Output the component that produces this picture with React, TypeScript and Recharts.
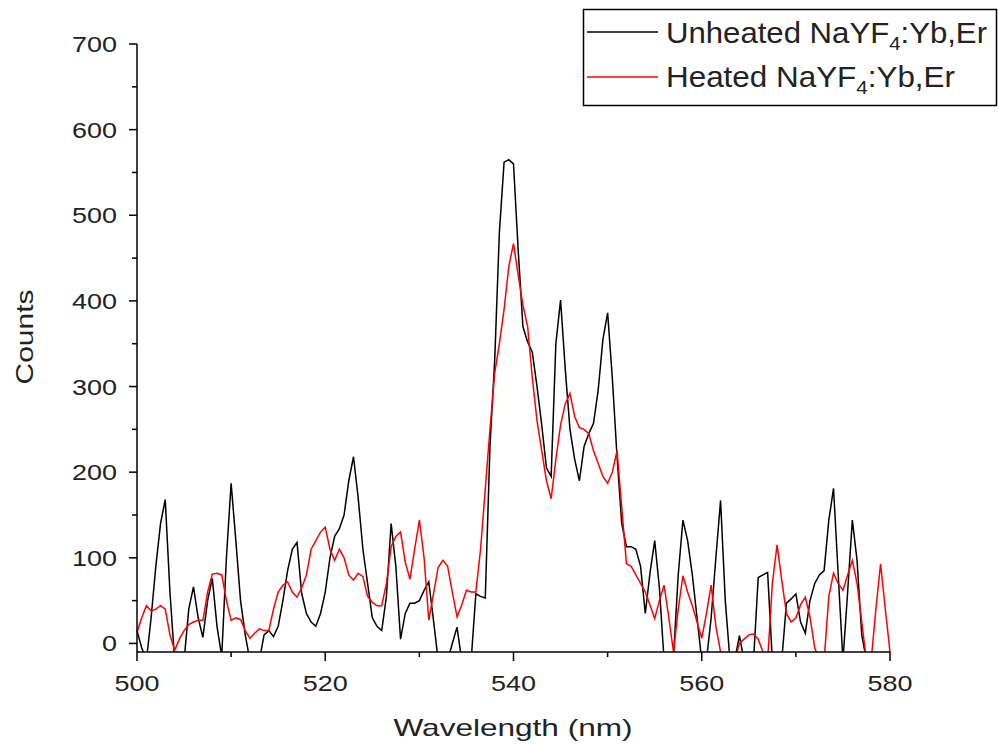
import { LineChart, Line, XAxis, YAxis } from "recharts";

// spectra sampled every 0.5 nm from 500 to 580 nm
const unheated = [
  15, -5, -20, 30, 90, 140, 168, 60, -20, -20,
  -20, 40, 66, 30, 7, 50, 76, 20, -15, 100,
  187, 120, 50, 10, -20, -20, -20, 10, 15, 8,
  20, 50, 85, 110, 118, 58, 35, 25, 20, 35,
  60, 100, 125, 134, 150, 190, 218, 170, 110, 70,
  30, 20, 15, 55, 140, 90, 5, 35, 47, 47,
  50, 62, 72, 27, -20, -20, -20, 0, 19, -20,
  -20, -20, 58, 55, 53, 230, 330, 480, 562, 565,
  560, 459, 370, 352, 340, 300, 255, 205, 195, 350,
  401, 320, 250, 215, 190, 230, 245, 257, 296, 355,
  386, 310, 218, 140, 113, 113, 110, 90, 35, 82,
  120, 65, -20, -20, -15, 80, 144, 120, 80, 30,
  -20, -20, 30, 100, 167, 50, -20, -20, 9, -20,
  -20, -20, 77, 80, 83, -20, -20, -20, 47, 52,
  58, 25, 12, 50, 70, 80, 85, 144, 181, 80,
  -20, 60, 144, 97, 10, -20, -20, -20, -20, -20,
  -20,
];

const heated = [
  13, 30, 44, 38, 40, 44, 40, 10, -8, 5,
  15, 22, 25, 27, 27, 60, 81, 82, 80, 50,
  27, 30, 28, 15, 6, 12, 17, 15, 15, 40,
  60, 68, 72, 60, 54, 65, 80, 110, 120, 130,
  136, 110, 97, 110, 100, 80, 74, 82, 78, 55,
  48, 44, 44, 70, 113, 125, 130, 95, 75, 110,
  144, 100, 27, 58, 89, 97, 90, 60, 31, 45,
  62, 60, 60, 110, 180, 250, 315, 350, 390, 440,
  467, 430, 395, 370, 310, 260, 225, 190, 169, 215,
  255, 280, 292, 265, 252, 250, 245, 225, 210, 195,
  187, 200, 225, 159, 93, 90, 80, 70, 60, 45,
  29, 50, 68, 30, -10, 40, 79, 60, 44, 25,
  6, 35, 68, 20, -10, -20, -20, -20, 0, 5,
  10, 11, 5, -10, -20, 70, 115, 74, 35, 25,
  30, 45, 54, 31, -5, -20, -20, 55, 82, 70,
  62, 80, 97, 70, 25, -20, -20, 40, 93, 40,
  -10,
];

const wavelengths = unheated.map((_, i) => 500 + i * 0.5);
const xTicks = [500, 510, 520, 530, 540, 550, 560, 570, 580];
const yTicks = [0, 50, 100, 150, 200, 250, 300, 350, 400, 450, 500, 550, 600, 650, 700];

const data = wavelengths.map((wl, i) => ({
  wl,
  unheated: unheated[i],
  heated: heated[i],
}));

const FONT = '"Liberation Sans", Arial, sans-serif';
const TEXT = "#222";

function XTick(props: any) {
  const { x, y, payload } = props;
  const major = payload.value % 20 === 0;
  return (
    <g>
      <line x1={x} y1={y} x2={x} y2={y + (major ? 9 : 5)} stroke="#000" strokeWidth={1.5} />
      {major && (
        <text
          x={x}
          y={y + 39}
          textAnchor="middle"
          fontSize={22}
          fontFamily={FONT}
          fill={TEXT}
          textLength={45}
          lengthAdjust="spacingAndGlyphs"
        >
          {payload.value}
        </text>
      )}
    </g>
  );
}

function YTick(props: any) {
  const { x, y, payload } = props;
  const major = payload.value % 100 === 0;
  const label = String(payload.value);
  return (
    <g>
      <line x1={x} y1={y} x2={x - (major ? 8 : 5)} y2={y} stroke="#000" strokeWidth={1.5} />
      {major && (
        <text
          x={x - 20}
          y={y + 8}
          textAnchor="end"
          fontSize={22}
          fontFamily={FONT}
          fill={TEXT}
          textLength={15 * label.length}
          lengthAdjust="spacingAndGlyphs"
        >
          {label}
        </text>
      )}
    </g>
  );
}

export default function App() {
  return (
    <div style={{ position: "relative", width: 999, height: 744, background: "#fff" }}>
      <style>{`body{margin:0;}`}</style>
      <LineChart
        width={999}
        height={744}
        data={data}
        margin={{ top: 44, right: 109, bottom: 32, left: 57 }}
      >
        <XAxis
          dataKey="wl"
          type="number"
          domain={[500, 580]}
          ticks={xTicks}
          height={60}
          tickSize={0}
          tickMargin={0}
          tick={<XTick />}
          axisLine={{ stroke: "#000", strokeWidth: 1.5 }}
          interval={0}
        />
        <YAxis
          type="number"
          domain={[-10, 700]}
          ticks={yTicks}
          allowDataOverflow
          width={80}
          tickSize={0}
          tickMargin={0}
          tick={<YTick />}
          axisLine={{ stroke: "#000", strokeWidth: 1.5 }}
          interval={0}
        />
        <Line
          type="linear"
          dataKey="unheated"
          stroke="#000"
          strokeWidth={1.5}
          dot={false}
          isAnimationActive={false}
        />
        <Line
          type="linear"
          dataKey="heated"
          stroke="#ff0000"
          strokeWidth={1.5}
          dot={false}
          isAnimationActive={false}
        />
      </LineChart>
      <svg
        width={999}
        height={744}
        style={{ position: "absolute", left: 0, top: 0, pointerEvents: "none" }}
      >
        <text
          x={0}
          y={0}
          transform="translate(33 337) rotate(-90)"
          textAnchor="middle"
          fontSize={24}
          fontFamily={FONT}
          fill={TEXT}
          textLength={95}
          lengthAdjust="spacingAndGlyphs"
        >
          Counts
        </text>
        <text
          x={513}
          y={736}
          textAnchor="middle"
          fontSize={24}
          fontFamily={FONT}
          fill={TEXT}
          textLength={239}
          lengthAdjust="spacingAndGlyphs"
        >
          Wavelength (nm)
        </text>
        <rect x={583.5} y={9.5} width={413} height={96} fill="#fff" stroke="#000" strokeWidth={1.5} />
        <line x1={587} y1={32} x2={658} y2={32} stroke="#000" strokeWidth={1.5} />
        <text
          x={666}
          y={43}
          fontSize={29}
          fontFamily={FONT}
          fill={TEXT}
          textLength={321}
          lengthAdjust="spacingAndGlyphs"
        >
          Unheated NaYF<tspan fontSize={19} dy={7}>4</tspan>
          <tspan dy={-7}>:Yb,Er</tspan>
        </text>
        <line x1={587} y1={77} x2={658} y2={77} stroke="#ff0000" strokeWidth={1.5} />
        <text
          x={666}
          y={87}
          fontSize={29}
          fontFamily={FONT}
          fill={TEXT}
          textLength={289}
          lengthAdjust="spacingAndGlyphs"
        >
          Heated NaYF<tspan fontSize={19} dy={7}>4</tspan>
          <tspan dy={-7}>:Yb,Er</tspan>
        </text>
      </svg>
    </div>
  );
}
